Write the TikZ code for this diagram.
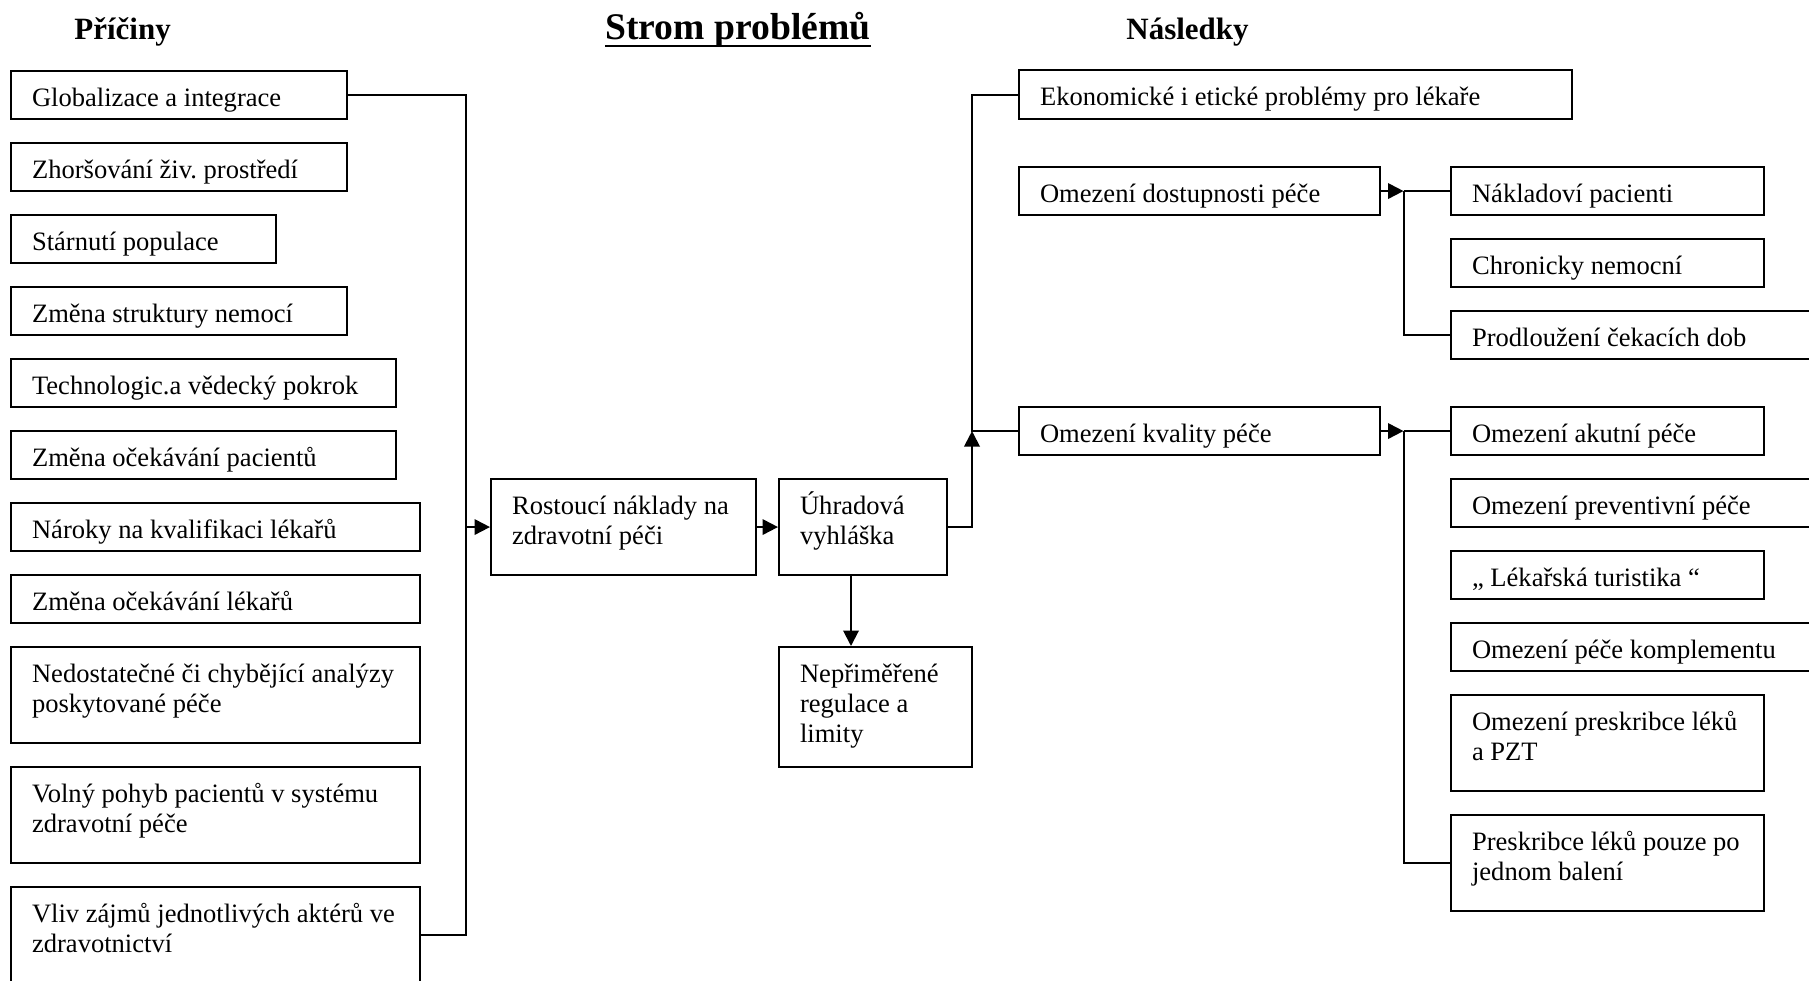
\documentclass[tikz,border=0pt]{standalone}
\usepackage{fontspec}
\setmainfont{Liberation Serif}
\usetikzlibrary{arrows.meta}
\newdimen\pxu
\pxu=0.4519pt
\frenchspacing
\tikzset{
  bx/.style={draw, line width=0.95pt, inner sep=0pt, anchor=north west,
    font=\fontsize{12}{13.6}\selectfont},
  ln/.style={line width=0.9pt},
  arr/.style={ln, -{Triangle[length=7pt,width=7pt]}},
  ttl/.style={inner sep=0pt, anchor=base west, font=\fontsize{14}{16}\selectfont\bfseries}
}
\newcommand\bx[6]{\node[bx] (#1) at (#2,#3) {\parbox[c][\dimexpr #5\pxu-#3\pxu\relax][t]{\dimexpr #4\pxu-#2\pxu\relax}{\raggedright\leftskip=21\pxu\rule{0pt}{35\pxu}#6}};}
\begin{document}
\begin{tikzpicture}[x=\pxu, y=-\pxu]
\useasboundingbox (0,0) rectangle (1809,981);
\clip (0,0) rectangle (1809,981);
% titles
\node[ttl] (tP) at (74,40) {Příčiny};
\node[ttl, font=\fontsize{17}{19}\selectfont\bfseries] (tS) at (605,40) {Strom problémů};
\draw[line width=0.9pt] ([yshift=-2.6pt]tS.base west) -- ([yshift=-2.6pt]tS.base east);
\node[ttl] (tN) at (1126,40) {Následky};
% causes
\bx{c1}{10}{70}{346}{118}{Globalizace a integrace}
\bx{c2}{10}{142}{346}{190}{Zhoršování živ. prostředí}
\bx{c3}{10}{214}{275}{262}{Stárnutí populace}
\bx{c4}{10}{286}{346}{334}{Změna struktury nemocí}
\bx{c5}{10}{358}{395}{406}{Technologic.a vědecký pokrok}
\bx{c6}{10}{430}{395}{478}{Změna očekávání pacientů}
\bx{c7}{10}{502}{419}{550}{Nároky na kvalifikaci lékařů}
\bx{c8}{10}{574}{419}{622}{Změna očekávání lékařů}
\bx{c9}{10}{646}{419}{742}{Nedostatečné či chybějící analýzy\\poskytované péče}
\bx{c10}{10}{766}{419}{862}{Volný pohyb pacientů v systému\\zdravotní péče}
\bx{c11}{10}{886}{419}{982}{Vliv zájmů jednotlivých aktérů ve\\zdravotnictví}
% middle
\bx{r1}{490}{478}{755}{574}{Rostoucí náklady na\\zdravotní péči}
\bx{u1}{778}{478}{946}{574}{Úhradová\\vyhláška}
\bx{n1}{778}{646}{971}{766}{Nepřiměřené\\regulace a\\limity}
% consequences
\bx{e1}{1018}{69}{1571}{118}{Ekonomické i etické problémy pro lékaře}
\bx{d1}{1018}{166}{1379}{214}{Omezení dostupnosti péče}
\bx{k1}{1018}{406}{1379}{454}{Omezení kvality péče}
\bx{s1}{1450}{166}{1763}{214}{Nákladoví pacienti}
\bx{s2}{1450}{238}{1763}{286}{Chronicky nemocní}
\bx{s3}{1450}{310}{1830}{358}{Prodloužení čekacích dob}
\bx{q1}{1450}{406}{1763}{454}{Omezení akutní péče}
\bx{q2}{1450}{478}{1830}{526}{Omezení preventivní péče}
\bx{q3}{1450}{550}{1763}{598}{„ Lékařská turistika “}
\bx{q4}{1450}{622}{1830}{670}{Omezení péče komplementu}
\bx{q5}{1450}{694}{1763}{790}{Omezení preskribce léků\\a PZT}
\bx{q6}{1450}{814}{1763}{910}{Preskribce léků pouze po\\jednom balení}
% bus coordinates
\coordinate (busL) at (466,0);
\coordinate (dn) at (851,0);
\coordinate (busR) at (972,0);
\coordinate (busD) at (1403.5,0);
% connectors
\draw[ln] (c1.east) -| (busL |- c11.east) -- (c11.east);
\draw[arr] (busL |- r1.west) -- (r1.west);
\draw[arr] (r1.east) -- (u1.west);
\draw[arr] (u1.south -| dn) -- (n1.north -| dn);
\draw[ln] (e1.west) -| (busR |- k1.west) -- (k1.west);
\draw[arr] (u1.east) -| (busR |- k1.west);
\draw[arr] (d1.east) -- (busD |- d1.east);
\draw[ln] (busD |- d1.east) -- (s1.west);
\draw[ln] (busD |- d1.east) |- (s3.west);
\draw[arr] (k1.east) -- (busD |- k1.east);
\draw[ln] (busD |- k1.east) -- (q1.west);
\draw[ln] (busD |- k1.east) |- (q6.west);
\end{tikzpicture}
\end{document}
